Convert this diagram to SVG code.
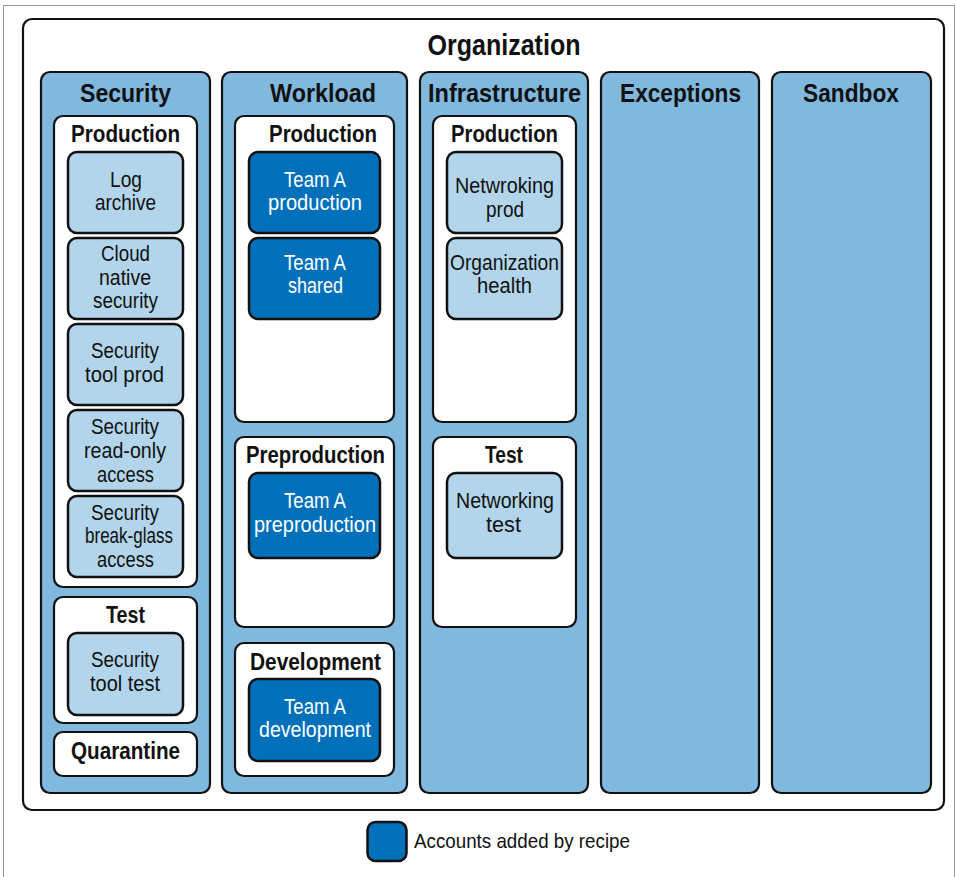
<svg xmlns="http://www.w3.org/2000/svg" width="956" height="877" viewBox="0 0 956 877">
<style>
.frame{fill:#fff;stroke:#9a9a9a;stroke-width:1}
.org{fill:#fff;stroke:#111;stroke-width:2.2}
.col{fill:#80b8de;stroke:#111;stroke-width:2.2}
.env{fill:#fff;stroke:#111;stroke-width:2.2}
.acc{fill:#b3d5eb;stroke:#111;stroke-width:2.5}
.new{fill:#0070bb;stroke:#111;stroke-width:2.5}
text{font-family:"Liberation Sans",Arial,sans-serif;text-anchor:middle;fill:#111}
.t-org{font-size:30px;font-weight:bold}
.t-col{font-size:26px;font-weight:bold}
.t-env{font-size:24px;font-weight:bold}
.t-acc{font-size:22px}
.t-new{font-size:22px;fill:#fff}
.t-leg{font-size:21px;text-anchor:start}
</style>
<rect class="frame" x="3.5" y="5.5" width="951" height="880"/>
<g id="organization">
<rect class="org" x="23" y="19" width="921" height="791" rx="9"/>
<text class="t-org" x="504" y="55" textLength="153" lengthAdjust="spacingAndGlyphs">Organization</text>
</g>
<g id="security">
<rect class="col" x="41" y="72" width="169" height="721" rx="9"/>
<text class="t-col" x="125.5" y="102" textLength="91" lengthAdjust="spacingAndGlyphs">Security</text>
</g>
<g id="security-production">
<rect class="env" x="54" y="116" width="143" height="471" rx="9"/>
<text class="t-env" x="125.5" y="142" textLength="109" lengthAdjust="spacingAndGlyphs">Production</text>
</g>
<g id="log-archive">
<rect class="acc" x="68" y="152" width="115" height="81" rx="9"/>
<text class="t-acc" x="126" y="187" textLength="32" lengthAdjust="spacingAndGlyphs">Log</text>
<text class="t-acc" x="125.5" y="210" textLength="61" lengthAdjust="spacingAndGlyphs">archive</text>
</g>
<g id="cloud-native-security">
<rect class="acc" x="68" y="238" width="115" height="81" rx="9"/>
<text class="t-acc" x="125.5" y="261" textLength="49" lengthAdjust="spacingAndGlyphs">Cloud</text>
<text class="t-acc" x="125" y="285" textLength="52" lengthAdjust="spacingAndGlyphs">native</text>
<text class="t-acc" x="125.5" y="308" textLength="65" lengthAdjust="spacingAndGlyphs">security</text>
</g>
<g id="security-tool-prod">
<rect class="acc" x="68" y="324" width="115" height="81" rx="9"/>
<text class="t-acc" x="125" y="358" textLength="68" lengthAdjust="spacingAndGlyphs">Security</text>
<text class="t-acc" x="124.5" y="382" textLength="79" lengthAdjust="spacingAndGlyphs">tool prod</text>
</g>
<g id="security-read-only-access">
<rect class="acc" x="68" y="410" width="115" height="81" rx="9"/>
<text class="t-acc" x="125" y="434" textLength="68" lengthAdjust="spacingAndGlyphs">Security</text>
<text class="t-acc" x="125" y="458" textLength="82" lengthAdjust="spacingAndGlyphs">read-only</text>
<text class="t-acc" x="125.5" y="482" textLength="57" lengthAdjust="spacingAndGlyphs">access</text>
</g>
<g id="security-break-glass-access">
<rect class="acc" x="68" y="496" width="115" height="81" rx="9"/>
<text class="t-acc" x="125" y="520" textLength="68" lengthAdjust="spacingAndGlyphs">Security</text>
<text class="t-acc" x="129" y="543" textLength="88" lengthAdjust="spacingAndGlyphs">break-glass</text>
<text class="t-acc" x="125.5" y="567" textLength="57" lengthAdjust="spacingAndGlyphs">access</text>
</g>
<g id="security-test">
<rect class="env" x="54" y="597" width="143" height="126" rx="9"/>
<text class="t-env" x="125.5" y="623" textLength="39" lengthAdjust="spacingAndGlyphs">Test</text>
</g>
<g id="security-tool-test">
<rect class="acc" x="68" y="633" width="115" height="82" rx="9"/>
<text class="t-acc" x="125" y="667" textLength="68" lengthAdjust="spacingAndGlyphs">Security</text>
<text class="t-acc" x="125" y="691" textLength="70" lengthAdjust="spacingAndGlyphs">tool test</text>
</g>
<g id="quarantine">
<rect class="env" x="54" y="732" width="143" height="44" rx="9"/>
<text class="t-env" x="125.5" y="759" textLength="109" lengthAdjust="spacingAndGlyphs">Quarantine</text>
</g>
<g id="workload">
<rect class="col" x="222" y="72" width="185" height="721" rx="9"/>
<text class="t-col" x="323" y="102" textLength="106" lengthAdjust="spacingAndGlyphs">Workload</text>
</g>
<g id="workload-production">
<rect class="env" x="235" y="116" width="159" height="306" rx="9"/>
<text class="t-env" x="323" y="142" textLength="108" lengthAdjust="spacingAndGlyphs">Production</text>
</g>
<g id="team-a-production">
<rect class="new" x="249" y="152" width="131" height="81" rx="9"/>
<text class="t-new" x="315" y="187" textLength="62" lengthAdjust="spacingAndGlyphs">Team A</text>
<text class="t-new" x="315" y="210" textLength="94" lengthAdjust="spacingAndGlyphs">production</text>
</g>
<g id="team-a-shared">
<rect class="new" x="249" y="238" width="131" height="81" rx="9"/>
<text class="t-new" x="315" y="270" textLength="62" lengthAdjust="spacingAndGlyphs">Team A</text>
<text class="t-new" x="315.5" y="293" textLength="55" lengthAdjust="spacingAndGlyphs">shared</text>
</g>
<g id="workload-preproduction">
<rect class="env" x="235" y="437" width="159" height="190" rx="9"/>
<text class="t-env" x="315.5" y="463" textLength="139" lengthAdjust="spacingAndGlyphs">Preproduction</text>
</g>
<g id="team-a-preproduction">
<rect class="new" x="249" y="473" width="131" height="85" rx="9"/>
<text class="t-new" x="315" y="508" textLength="62" lengthAdjust="spacingAndGlyphs">Team A</text>
<text class="t-new" x="315" y="532" textLength="122" lengthAdjust="spacingAndGlyphs">preproduction</text>
</g>
<g id="workload-development">
<rect class="env" x="235" y="643" width="159" height="133" rx="9"/>
<text class="t-env" x="315.5" y="670" textLength="131" lengthAdjust="spacingAndGlyphs">Development</text>
</g>
<g id="team-a-development">
<rect class="new" x="249" y="679" width="131" height="82" rx="9"/>
<text class="t-new" x="315" y="714" textLength="62" lengthAdjust="spacingAndGlyphs">Team A</text>
<text class="t-new" x="315" y="737" textLength="112" lengthAdjust="spacingAndGlyphs">development</text>
</g>
<g id="infrastructure">
<rect class="col" x="420" y="72" width="168" height="721" rx="9"/>
<text class="t-col" x="504.5" y="102" textLength="153" lengthAdjust="spacingAndGlyphs">Infrastructure</text>
</g>
<g id="infrastructure-production">
<rect class="env" x="433" y="116" width="143" height="306" rx="9"/>
<text class="t-env" x="504.5" y="142" textLength="107" lengthAdjust="spacingAndGlyphs">Production</text>
</g>
<g id="networking-prod">
<rect class="acc" x="447" y="152" width="115" height="81" rx="9"/>
<text class="t-acc" x="504.5" y="193" textLength="99" lengthAdjust="spacingAndGlyphs">Netwroking</text>
<text class="t-acc" x="505" y="217" textLength="38" lengthAdjust="spacingAndGlyphs">prod</text>
</g>
<g id="organization-health">
<rect class="acc" x="447" y="238" width="115" height="81" rx="9"/>
<text class="t-acc" x="504.5" y="270" textLength="109" lengthAdjust="spacingAndGlyphs">Organization</text>
<text class="t-acc" x="504.5" y="293" textLength="55" lengthAdjust="spacingAndGlyphs">health</text>
</g>
<g id="infrastructure-test">
<rect class="env" x="433" y="437" width="143" height="190" rx="9"/>
<text class="t-env" x="504" y="463" textLength="38" lengthAdjust="spacingAndGlyphs">Test</text>
</g>
<g id="networking-test">
<rect class="acc" x="447" y="473" width="115" height="85" rx="9"/>
<text class="t-acc" x="505" y="508" textLength="98" lengthAdjust="spacingAndGlyphs">Networking</text>
<text class="t-acc" x="503.5" y="532" textLength="35" lengthAdjust="spacingAndGlyphs">test</text>
</g>
<g id="exceptions">
<rect class="col" x="601" y="72" width="158" height="721" rx="9"/>
<text class="t-col" x="680.5" y="102" textLength="121" lengthAdjust="spacingAndGlyphs">Exceptions</text>
</g>
<g id="sandbox">
<rect class="col" x="772" y="72" width="159" height="721" rx="9"/>
<text class="t-col" x="851" y="102" textLength="96" lengthAdjust="spacingAndGlyphs">Sandbox</text>
</g>
<g id="connectors"></g>
<g id="legend">
<rect class="new" x="367.5" y="822" width="39" height="39" rx="8"/>
<text class="t-leg" x="414" y="848" textLength="216" lengthAdjust="spacingAndGlyphs">Accounts added by recipe</text>
</g>
</svg>
